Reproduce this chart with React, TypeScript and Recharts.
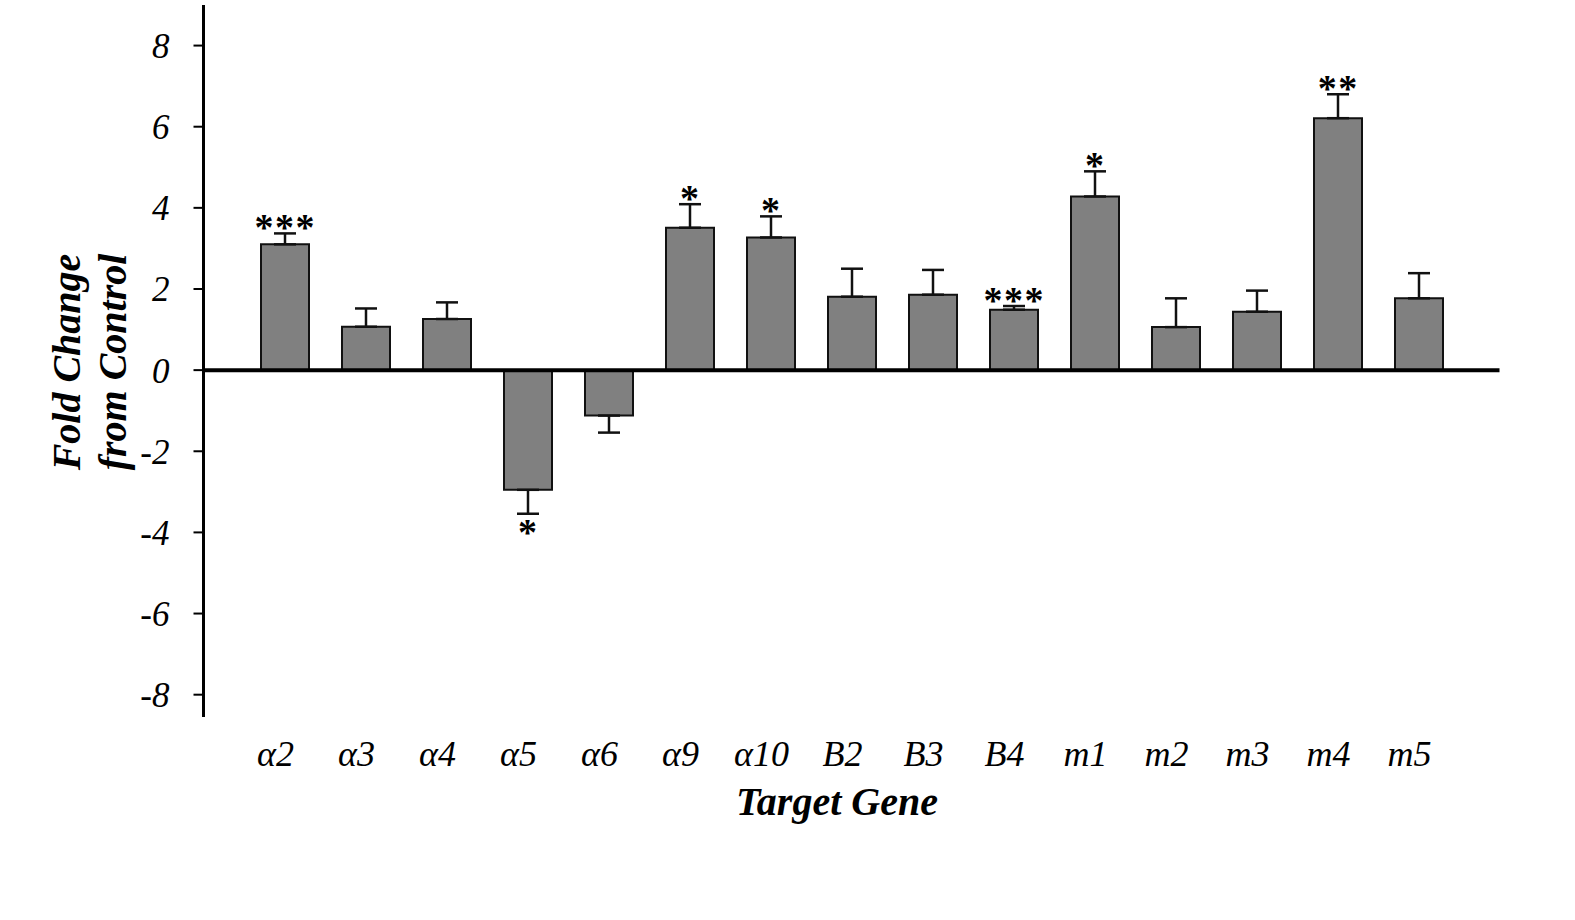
import React from "react"
import {
    ComposedChart,
    Bar,
    ErrorBar,
    Scatter,
    XAxis,
    YAxis,
    ReferenceLine,
} from "recharts"

// values (fold change, SEM, significance marks)
const genes = ["α2", "α3", "α4", "α5", "α6", "α9", "α10", "B2", "B3", "B4", "m1", "m2", "m3", "m4", "m5"]
const foldChange = [3.10, 1.07, 1.26, -2.95, -1.12, 3.51, 3.27, 1.81, 1.86, 1.49, 4.28, 1.06, 1.44, 6.21, 1.77]
const sem = [0.27, 0.45, 0.41, 0.59, 0.42, 0.58, 0.52, 0.69, 0.61, 0.09, 0.62, 0.71, 0.52, 0.59, 0.62]
const significance = ["***", "", "", "*", "", "*", "*", "", "", "***", "*", "", "", "**", ""]
const yTicks = [-8, -6, -4, -2, 0, 2, 4, 6, 8]

const FONT = "'Liberation Serif', 'Times New Roman', serif"

const data = genes.map((gene, i) => {
    const v = foldChange[i]
    const up = v >= 0
    return {
        gene,
        value: v,
        // one-sided error bars: up for positive bars, down for negative
        err: up ? [0, sem[i]] : [sem[i], 0],
        tip: up ? v + sem[i] : v - sem[i],
        sig: significance[i],
        up,
    }
})

const GeneTick = (props: any) => {
    const { x, payload } = props
    return (
        <text
            x={x - 9}
            y={766}
            textAnchor="middle"
            fontFamily={FONT}
            fontStyle="italic"
            fontSize={36}
            fill="#000"
        >
            {payload.value}
        </text>
    )
}

const StarMark = (props: any) => {
    const { cx, cy, payload } = props
    if (!payload || !payload.sig) return <g />
    const spacing = 1.5
    return (
        <text
            x={cx + spacing / 2}
            y={payload.up ? cy + 7 : cy + 31}
            textAnchor="middle"
            fontFamily={FONT}
            fontWeight="bold"
            fontSize={38}
            letterSpacing={spacing}
            fill="#000"
        >
            {payload.sig}
        </text>
    )
}

const YTitle = () => (
    <g fontFamily={FONT} fontStyle="italic" fontWeight="bold" fontSize={40} fill="#000">
        <text x={80} y={362} textAnchor="middle" transform="rotate(-90 80 362)">
            Fold Change
        </text>
        <text x={126} y={362} textAnchor="middle" transform="rotate(-90 126 362)">
            from Control
        </text>
    </g>
)

const XTitle = () => (
    <text
        x={837}
        y={815}
        textAnchor="middle"
        fontFamily={FONT}
        fontStyle="italic"
        fontWeight="bold"
        fontSize={40}
        fill="#000"
    >
        Target Gene
    </text>
)

export default function App() {
    return (
        <div style={{ position: "absolute", left: 0, top: 0, width: 1575, height: 920, background: "#fff" }}>
            <ComposedChart
                width={1575}
                height={920}
                data={data}
                margin={{ top: 5, right: 75.5, bottom: 0, left: 0 }}
            >
                <XAxis
                    dataKey="gene"
                    height={203}
                    axisLine={false}
                    tickLine={false}
                    padding={{ left: 40.5, right: 40.5 }}
                    tick={<GeneTick />}
                    interval={0}
                    label={{ content: () => <XTitle /> }}
                />
                <YAxis
                    type="number"
                    width={203.5}
                    domain={[-8.55, 9]}
                    allowDataOverflow
                    ticks={yTicks}
                    tickSize={10}
                    tickMargin={24}
                    axisLine={{ stroke: "#000", strokeWidth: 3 }}
                    tickLine={{ stroke: "#000", strokeWidth: 2 }}
                    tick={{ fontFamily: FONT, fontStyle: "italic", fontSize: 35, fill: "#000" }}
                    label={{ content: () => <YTitle /> }}
                />
                <Bar
                    dataKey="value"
                    fill="#808080"
                    stroke="#111"
                    strokeWidth={2}
                    barSize={48}
                    isAnimationActive={false}
                >
                    <ErrorBar dataKey="err" width={11} stroke="#111" strokeWidth={2.5} direction="y" />
                </Bar>
                <ReferenceLine y={0} stroke="#000" strokeWidth={4} />
                <Scatter dataKey="tip" shape={<StarMark />} isAnimationActive={false} />
            </ComposedChart>
        </div>
    )
}
